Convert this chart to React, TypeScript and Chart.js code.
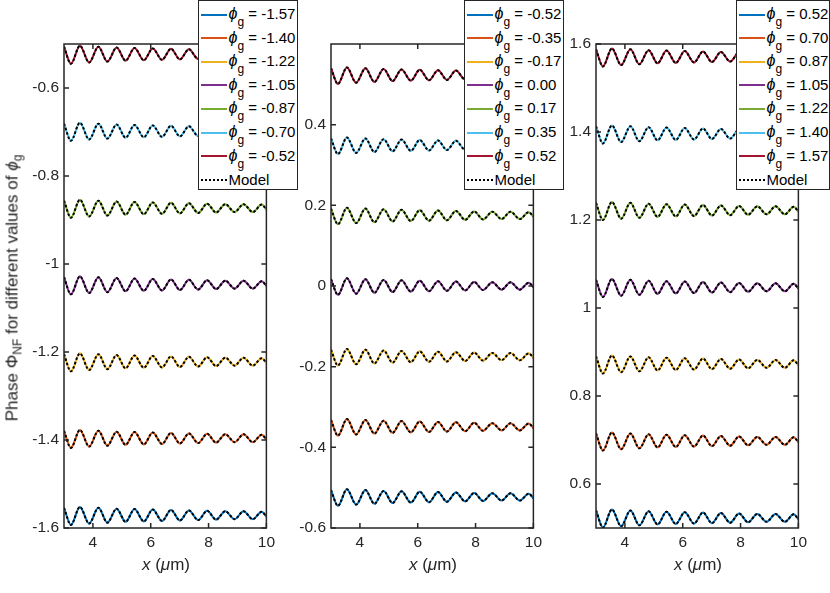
import { useEffect, useRef } from "react";
import { Chart, registerables } from "chart.js";

Chart.register(...registerables);

const FONT = "'Liberation Sans', Arial, Helvetica, sans-serif";
const INK = "#262626";

// crests / troughs of the ripple (x in um)
const xPoints = [3.0, 3.24, 3.55, 3.87, 4.19, 4.5, 4.82, 5.13, 5.44, 5.76, 6.07, 6.39, 6.7, 7.01, 7.32, 7.64, 7.95, 8.26, 8.58, 8.9, 9.21, 9.53, 9.84, 10.0];
// ripple around the mean phase at those x; it looks the same for every phi_g
const ripple = [0.017, -0.022, 0.019, -0.019, 0.017, -0.017, 0.015, -0.015, 0.014, -0.014, 0.013, -0.013, 0.012, -0.012, 0.011, -0.011, 0.01, -0.01, 0.009, -0.009, 0.009, -0.009, 0.008, -0.003];

// mean phase level of every curve
const levelsLeft = [-1.571, -1.396, -1.222, -1.047, -0.873, -0.698, -0.523];
const levelsMid = [-0.523, -0.349, -0.175, 0.0, 0.175, 0.349, 0.523];
const levelsRight = [0.523, 0.698, 0.873, 1.047, 1.222, 1.396, 1.571];

const labelsLeft = ["-1.57", "-1.40", "-1.22", "-1.05", "-0.87", "-0.70", "-0.52"];
const labelsMid = ["-0.52", "-0.35", "-0.17", "0.00", "0.17", "0.35", "0.52"];
const labelsRight = ["0.52", "0.70", "0.87", "1.05", "1.22", "1.40", "1.57"];

const xTicks = [4, 6, 8, 10];
const yTicksLeft = [-1.6, -1.4, -1.2, -1, -0.8, -0.6];
const yTicksMid = [-0.6, -0.4, -0.2, 0, 0.2, 0.4];
const yTicksRight = [0.6, 0.8, 1, 1.2, 1.4, 1.6];

const colors = ["#0072BD", "#D95319", "#EDB120", "#7E2F8E", "#77AC30", "#4DBEEE", "#A2142F"];

// box round the axes with inward ticks on all four sides, like matlab
const boxPlugin = {
  id: "matlabBox",
  afterDatasetsDraw(chart: any) {
    const { ctx, chartArea, scales } = chart;
    const { left, right, top, bottom } = chartArea;
    const tl = 5;
    ctx.save();
    ctx.strokeStyle = INK;
    ctx.lineWidth = 1.5;
    ctx.beginPath();
    scales.x.ticks.forEach((t: any) => {
      const px = scales.x.getPixelForValue(t.value);
      ctx.moveTo(px, bottom);
      ctx.lineTo(px, bottom - tl);
      ctx.moveTo(px, top);
      ctx.lineTo(px, top + tl);
    });
    scales.y.ticks.forEach((t: any) => {
      const py = scales.y.getPixelForValue(t.value);
      ctx.moveTo(left, py);
      ctx.lineTo(left + tl, py);
      ctx.moveTo(right, py);
      ctx.lineTo(right - tl, py);
    });
    ctx.stroke();
    ctx.strokeRect(left, top, right - left, bottom - top);
    ctx.restore();
  },
};

interface PanelProps {
  left: number;
  levels: number[];
  yMin: number;
  yMax: number;
  yTicks: number[];
}

const Panel: React.FC<PanelProps> = ({ left, levels, yMin, yMax, yTicks }) => {
  const canvasRef = useRef<HTMLCanvasElement>(null);
  const chartRef = useRef<Chart | null>(null);

  useEffect(() => {
    if (!canvasRef.current) return;
    const ctx = canvasRef.current.getContext("2d");
    if (!ctx) return;
    if (chartRef.current) chartRef.current.destroy();

    const series = (level: number) => xPoints.map((x, i) => ({ x, y: level + ripple[i] }));

    const measured = levels.map((lv, i) => ({
      data: series(lv),
      borderColor: colors[i],
      borderWidth: 2,
      order: 1,
    }));
    // model curves sit on top as black dots
    const model = levels.map((lv) => ({
      data: series(lv),
      borderColor: "#000000",
      borderWidth: 2,
      borderDash: [2.5, 2],
      order: 0,
    }));

    const tickFont = { family: FONT, size: 15.5 };
    const fmt = (v: any) => String(Math.round(Number(v) * 10) / 10);

    chartRef.current = new Chart(ctx, {
      type: "line",
      data: {
        datasets: [...model, ...measured].map((d) => ({
          ...d,
          pointRadius: 0,
          cubicInterpolationMode: "monotone" as const,
          clip: 0,
        })),
      },
      options: {
        animation: false,
        responsive: false,
        layout: { padding: { top: 44, right: 12, left: 0, bottom: 0 } },
        plugins: { legend: { display: false }, tooltip: { enabled: false } },
        scales: {
          x: {
            type: "linear",
            min: 3,
            max: 10,
            grid: { display: false, drawTicks: false },
            border: { display: false },
            ticks: { padding: 5, autoSkip: false, maxRotation: 0, font: tickFont, color: INK, callback: fmt },
            afterBuildTicks: (s: any) => {
              s.ticks = xTicks.map((v) => ({ value: v }));
            },
            afterFit: (s: any) => {
              s.height = 65;
            },
          },
          y: {
            type: "linear",
            min: yMin,
            max: yMax,
            grid: { display: false, drawTicks: false },
            border: { display: false },
            ticks: { padding: 5, autoSkip: false, font: tickFont, color: INK, callback: fmt },
            afterBuildTicks: (s: any) => {
              s.ticks = yTicks.map((v) => ({ value: v }));
            },
            afterFit: (s: any) => {
              s.width = 64;
            },
          },
        },
      },
      plugins: [boxPlugin],
    });

    return () => {
      if (chartRef.current) {
        chartRef.current.destroy();
        chartRef.current = null;
      }
    };
  }, [levels, yMin, yMax, yTicks]);

  return (
    <canvas
      ref={canvasRef}
      width={280}
      height={593}
      style={{ position: "absolute", left, top: 0, width: 280, height: 593 }}
    />
  );
};

const Phi = () => (
  <>
    <span style={{ fontStyle: "italic", fontSize: 16 }}>ϕ</span>
    <span style={{ fontSize: 12, position: "relative", top: 7 }}>g</span>
  </>
);

const Legend: React.FC<{ left: number; width: number; labels: string[] }> = ({ left, width, labels }) => {
  const rows = [...labels, "Model"];
  return (
    <div
      style={{
        position: "absolute",
        left,
        top: 0,
        width,
        height: 190,
        boxSizing: "border-box",
        border: `1.5px solid ${INK}`,
        background: "#fff",
        fontFamily: FONT,
        fontSize: 15,
        color: "#000",
      }}
    >
      {rows.map((lab, i) => (
        <div
          key={lab}
          style={{
            position: "absolute",
            left: 1.5,
            top: 3.5 + 23.6 * i,
            height: 20,
            display: "flex",
            alignItems: "center",
            whiteSpace: "nowrap",
          }}
        >
          <div
            style={{
              width: 26,
              height: 0,
              borderTop: i < labels.length ? `2px solid ${colors[i]}` : "2px dotted #000",
            }}
          />
          <div style={{ marginLeft: 2, lineHeight: "20px" }}>
            {i < labels.length ? (
              <>
                <Phi />
                {` = ${lab}`}
              </>
            ) : (
              "Model"
            )}
          </div>
        </div>
      ))}
    </div>
  );
};

const XTitle: React.FC<{ center: number }> = ({ center }) => (
  <div
    style={{
      position: "absolute",
      left: center,
      top: 556,
      transform: "translateX(-50%)",
      fontFamily: FONT,
      fontSize: 17,
      lineHeight: 1,
      color: INK,
      whiteSpace: "nowrap",
    }}
  >
    <span style={{ fontStyle: "italic" }}>x</span> (<span style={{ fontStyle: "italic" }}>μ</span>m)
  </div>
);

export default function App() {
  return (
    <div
      style={{
        position: "fixed",
        left: 0,
        top: 0,
        width: 830,
        height: 593,
        background: "#fff",
        overflow: "hidden",
      }}
    >
      <Panel left={0} levels={levelsLeft} yMin={-1.6} yMax={-0.5} yTicks={yTicksLeft} />
      <Panel left={267} levels={levelsMid} yMin={-0.6} yMax={0.6} yTicks={yTicksMid} />
      <Panel left={532} levels={levelsRight} yMin={0.5} yMax={1.6} yTicks={yTicksRight} />
      <Legend left={198} width={100} labels={labelsLeft} />
      <Legend left={464} width={100} labels={labelsMid} />
      <Legend left={736} width={94} labels={labelsRight} />
      <div
        style={{
          position: "absolute",
          left: 12,
          top: 288,
          transform: "translate(-50%, -50%) rotate(-90deg)",
          fontFamily: FONT,
          fontSize: 17,
          lineHeight: 1,
          color: INK,
          whiteSpace: "nowrap",
        }}
      >
        Phase Φ<span style={{ fontSize: 12, position: "relative", top: 4 }}>NF</span> for different values of{" "}
        <span style={{ fontStyle: "italic" }}>ϕ</span>
        <span style={{ fontSize: 12, position: "relative", top: 4 }}>g</span>
      </div>
      <XTitle center={166} />
      <XTitle center={433} />
      <XTitle center={698} />
    </div>
  );
}
